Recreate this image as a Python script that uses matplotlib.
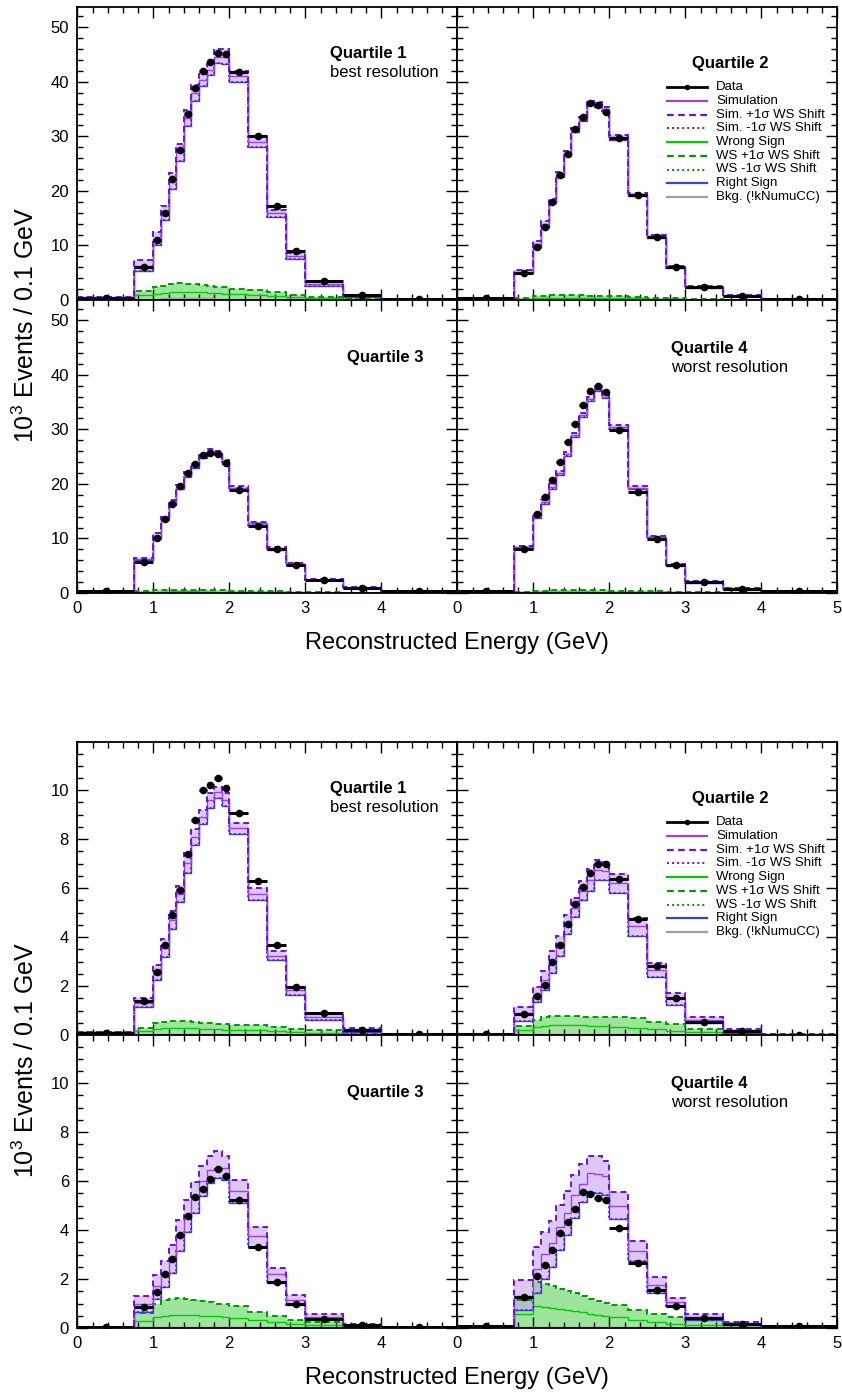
import matplotlib
matplotlib.use("Agg")
import matplotlib.pyplot as plt
from matplotlib.lines import Line2D
from matplotlib.ticker import MultipleLocator
import numpy as np

plt.rcParams['font.family'] = ['Liberation Sans', 'DejaVu Sans']
plt.rcParams['mathtext.fontset'] = 'custom'
plt.rcParams['mathtext.rm'] = 'Liberation Sans'

# Reconstructed-energy binning (GeV)
edges = [0.0, 0.75, 1.0, 1.1, 1.2, 1.3, 1.4, 1.5, 1.6, 1.7, 1.8, 1.9, 2.0,
         2.25, 2.5, 2.75, 3.0, 3.5, 4.0, 5.0]

# ---------------- neutrino-mode sample (upper figure) ----------------
fhc_q1_data = [0.45, 6.1, 11.0, 15.9, 22.2, 27.4, 34.0, 38.8, 41.9, 43.7, 45.2, 45.1, 41.7, 30.1, 17.2, 8.9, 3.4, 0.86, 0.1]
fhc_q1_sim = [0.5, 6.3, 11.2, 15.9, 21.7, 27.2, 33.3, 37.9, 40.3, 42.2, 44.6, 44.5, 41.0, 29.0, 15.9, 8.1, 2.95, 0.8, 0.1]
fhc_q1_up = [0.55, 7.3, 12.4, 17.2, 23.2, 28.6, 34.8, 39.4, 41.5, 43.2, 46.0, 46.0, 42.0, 29.8, 16.5, 8.6, 3.4, 1.0, 0.12]
fhc_q1_dn = [0.45, 5.4, 10.1, 14.7, 20.3, 25.5, 31.8, 36.4, 39.2, 41.3, 43.4, 43.3, 40.0, 28.1, 15.3, 7.6, 2.6, 0.6, 0.08]
fhc_q1_ws = [0.02, 0.85, 1.15, 1.3, 1.45, 1.5, 1.5, 1.45, 1.4, 1.3, 1.2, 1.15, 1.05, 0.9, 0.7, 0.5, 0.3, 0.12, 0.02]
fhc_q1_wsup = [0.05, 1.7, 2.3, 2.6, 2.9, 3.05, 3.0, 2.9, 2.75, 2.6, 2.45, 2.3, 2.1, 1.8, 1.4, 1.0, 0.6, 0.25, 0.03]

fhc_q2_data = [0.4, 4.9, 9.7, 13.4, 18.0, 23.0, 26.8, 31.3, 33.5, 36.1, 35.8, 34.5, 29.6, 19.3, 11.5, 6.0, 2.3, 0.7, 0.2]
fhc_q2_sim = [0.4, 5.2, 10.3, 13.9, 18.1, 23.0, 26.9, 31.2, 33.2, 36.1, 35.8, 35.0, 29.8, 19.4, 11.6, 6.05, 2.4, 0.75, 0.2]
fhc_q2_up = [0.45, 5.5, 10.8, 14.4, 18.5, 23.4, 27.3, 31.6, 33.6, 36.5, 36.2, 35.4, 30.2, 19.7, 11.9, 6.3, 2.6, 0.85, 0.22]
fhc_q2_dn = [0.38, 4.9, 9.8, 13.4, 17.7, 22.6, 26.5, 30.8, 32.8, 35.7, 35.4, 34.6, 29.4, 19.1, 11.35, 5.8, 2.2, 0.65, 0.18]
fhc_q2_ws = [0.01, 0.22, 0.35, 0.4, 0.42, 0.45, 0.45, 0.44, 0.42, 0.41, 0.39, 0.37, 0.35, 0.3, 0.22, 0.16, 0.09, 0.04, 0.01]
fhc_q2_wsup = [0.02, 0.45, 0.7, 0.8, 0.85, 0.9, 0.9, 0.88, 0.85, 0.82, 0.78, 0.75, 0.7, 0.6, 0.45, 0.32, 0.18, 0.08, 0.02]

fhc_q3_data = [0.3, 5.7, 10.1, 13.5, 16.3, 19.7, 22.0, 23.7, 25.3, 25.7, 25.4, 23.8, 18.9, 12.2, 8.1, 5.1, 2.3, 1.0, 0.3]
fhc_q3_sim = [0.3, 6.2, 10.5, 13.6, 16.6, 19.4, 21.7, 23.4, 25.1, 26.0, 25.7, 24.0, 19.3, 12.8, 8.15, 5.3, 2.45, 0.95, 0.3]
fhc_q3_up = [0.33, 6.5, 11.0, 14.0, 17.0, 19.8, 22.1, 23.8, 25.5, 26.4, 26.1, 24.4, 19.7, 13.1, 8.4, 5.5, 2.6, 1.05, 0.32]
fhc_q3_dn = [0.28, 6.0, 10.1, 13.3, 16.2, 19.0, 21.3, 23.0, 24.8, 25.7, 25.4, 23.7, 19.0, 12.5, 7.9, 5.1, 2.3, 0.85, 0.28]
fhc_q3_ws = [0.01, 0.15, 0.25, 0.27, 0.3, 0.3, 0.3, 0.29, 0.27, 0.26, 0.25, 0.24, 0.22, 0.19, 0.15, 0.11, 0.06, 0.03, 0.01]
fhc_q3_wsup = [0.01, 0.3, 0.5, 0.55, 0.6, 0.6, 0.6, 0.58, 0.55, 0.52, 0.5, 0.48, 0.45, 0.38, 0.3, 0.22, 0.13, 0.06, 0.01]

fhc_q4_data = [0.4, 8.1, 14.5, 17.6, 20.8, 24.0, 27.7, 31.0, 34.5, 37.1, 38.0, 36.8, 29.9, 18.6, 9.9, 5.1, 2.0, 0.7, 0.3]
fhc_q4_sim = [0.4, 8.35, 14.0, 16.7, 19.5, 22.0, 25.4, 28.9, 32.6, 35.5, 37.3, 36.0, 30.4, 19.3, 10.3, 5.2, 2.05, 0.72, 0.3]
fhc_q4_up = [0.43, 8.6, 14.3, 17.1, 19.9, 22.4, 25.8, 29.3, 33.0, 35.9, 37.6, 36.3, 30.7, 19.6, 10.5, 5.4, 2.2, 0.85, 0.32]
fhc_q4_dn = [0.38, 8.1, 13.8, 16.3, 19.1, 21.7, 25.1, 28.5, 32.2, 35.1, 37.0, 35.7, 30.1, 19.0, 10.1, 5.0, 1.9, 0.6, 0.28]
fhc_q4_ws = [0.01, 0.12, 0.2, 0.22, 0.25, 0.25, 0.25, 0.25, 0.25, 0.25, 0.25, 0.24, 0.22, 0.19, 0.14, 0.1, 0.06, 0.03, 0.01]
fhc_q4_wsup = [0.01, 0.25, 0.4, 0.45, 0.5, 0.5, 0.5, 0.5, 0.5, 0.5, 0.5, 0.48, 0.45, 0.38, 0.28, 0.2, 0.12, 0.05, 0.01]

fhc_bkg = [0.05, 0.2, 0.25, 0.28, 0.3, 0.3, 0.3, 0.3, 0.3, 0.28, 0.27, 0.25, 0.22, 0.18, 0.14, 0.1, 0.07, 0.04, 0.02]

# ---------------- antineutrino-mode sample (lower figure) ----------------
rhc_q1_data = [0.1, 1.37, 2.57, 3.69, 4.9, 5.94, 7.39, 8.77, 10.0, 10.2, 10.5, 10.08, 9.06, 6.28, 3.69, 1.98, 0.89, 0.2, 0.03]
rhc_q1_sim = [0.12, 1.32, 2.55, 3.55, 4.71, 5.78, 7.04, 8.1, 8.92, 9.59, 9.93, 9.6, 8.44, 5.78, 3.24, 1.82, 0.75, 0.2, 0.02]
rhc_q1_up = [0.13, 1.5, 2.86, 3.93, 5.05, 6.08, 7.42, 8.4, 9.18, 9.88, 10.15, 9.9, 8.67, 6.01, 3.42, 1.95, 0.86, 0.27, 0.03]
rhc_q1_dn = [0.11, 1.13, 2.25, 3.18, 4.34, 5.42, 6.63, 7.75, 8.61, 9.29, 9.7, 9.36, 8.2, 5.53, 3.07, 1.64, 0.61, 0.14, 0.01]
rhc_q1_ws = [0.0, 0.17, 0.25, 0.28, 0.3, 0.3, 0.29, 0.27, 0.25, 0.24, 0.23, 0.22, 0.21, 0.2, 0.17, 0.13, 0.1, 0.05, 0.0]
rhc_q1_wsup = [0.0, 0.3, 0.48, 0.55, 0.59, 0.59, 0.56, 0.53, 0.5, 0.48, 0.45, 0.45, 0.42, 0.4, 0.33, 0.26, 0.2, 0.1, 0.0]

rhc_q2_data = [0.05, 0.85, 1.6, 2.05, 2.98, 3.69, 4.55, 5.37, 6.04, 6.6, 7.0, 6.97, 6.38, 4.74, 2.8, 1.5, 0.55, 0.16, 0.02]
rhc_q2_sim = [0.05, 0.88, 1.64, 2.23, 2.98, 3.62, 4.5, 5.19, 5.87, 6.35, 6.73, 6.69, 6.19, 4.44, 2.66, 1.5, 0.61, 0.17, 0.03]
rhc_q2_up = [0.06, 1.16, 1.95, 2.6, 3.42, 4.03, 4.9, 5.6, 6.28, 6.79, 7.13, 7.06, 6.56, 4.78, 2.96, 1.73, 0.75, 0.25, 0.04]
rhc_q2_dn = [0.04, 0.59, 1.33, 1.84, 2.55, 3.24, 4.14, 4.81, 5.5, 5.87, 6.33, 6.33, 5.8, 4.06, 2.36, 1.23, 0.48, 0.1, 0.02]
rhc_q2_ws = [0.0, 0.2, 0.31, 0.37, 0.4, 0.41, 0.41, 0.4, 0.39, 0.38, 0.38, 0.36, 0.34, 0.3, 0.23, 0.18, 0.11, 0.07, 0.01]
rhc_q2_wsup = [0.0, 0.37, 0.61, 0.72, 0.78, 0.79, 0.79, 0.78, 0.75, 0.75, 0.75, 0.72, 0.72, 0.68, 0.55, 0.45, 0.26, 0.14, 0.02]

rhc_q3_data = [0.04, 0.86, 1.48, 2.2, 2.8, 3.8, 4.56, 5.35, 5.68, 6.1, 6.5, 6.2, 5.24, 3.32, 1.89, 0.97, 0.38, 0.11, 0.04]
rhc_q3_sim = [0.05, 0.98, 1.71, 2.23, 2.8, 3.76, 4.56, 5.31, 5.99, 6.44, 6.54, 6.54, 5.61, 3.76, 2.19, 1.16, 0.45, 0.13, 0.04]
rhc_q3_up = [0.06, 1.3, 2.16, 2.75, 3.39, 4.42, 5.21, 5.96, 6.63, 7.04, 7.22, 7.02, 6.03, 4.12, 2.46, 1.34, 0.56, 0.18, 0.05]
rhc_q3_dn = [0.04, 0.66, 1.2, 1.68, 2.26, 3.16, 3.94, 4.69, 5.38, 5.92, 6.13, 6.06, 5.1, 3.32, 1.85, 0.93, 0.31, 0.07, 0.03]
rhc_q3_ws = [0.0, 0.27, 0.45, 0.51, 0.53, 0.55, 0.55, 0.52, 0.51, 0.49, 0.48, 0.45, 0.42, 0.31, 0.23, 0.16, 0.11, 0.04, 0.0]
rhc_q3_wsup = [0.0, 0.62, 1.0, 1.14, 1.2, 1.23, 1.2, 1.16, 1.11, 1.07, 1.0, 0.97, 0.89, 0.66, 0.48, 0.34, 0.25, 0.08, 0.01]

rhc_q4_data = [0.08, 1.27, 2.13, 2.56, 3.19, 3.9, 4.35, 4.86, 5.54, 5.49, 5.31, 5.21, 4.08, 2.67, 1.55, 0.9, 0.42, 0.18, 0.07]
rhc_q4_sim = [0.08, 1.3, 2.39, 3.02, 3.46, 4.12, 4.69, 5.44, 5.9, 6.33, 6.31, 6.2, 4.99, 3.16, 1.75, 1.07, 0.45, 0.18, 0.06]
rhc_q4_up = [0.09, 1.98, 3.32, 3.94, 4.39, 5.03, 5.58, 6.24, 6.68, 7.04, 7.02, 6.84, 5.54, 3.57, 2.07, 1.24, 0.56, 0.25, 0.07]
rhc_q4_dn = [0.07, 0.73, 1.44, 2.02, 2.5, 3.19, 3.8, 4.49, 5.13, 5.54, 5.51, 5.44, 4.45, 2.75, 1.44, 0.89, 0.34, 0.11, 0.05]
rhc_q4_ws = [0.0, 0.59, 0.89, 0.86, 0.82, 0.78, 0.73, 0.68, 0.64, 0.59, 0.55, 0.49, 0.45, 0.34, 0.25, 0.18, 0.11, 0.04, 0.01]
rhc_q4_wsup = [0.0, 1.16, 1.86, 1.79, 1.71, 1.61, 1.5, 1.41, 1.31, 1.2, 1.11, 1.03, 0.96, 0.75, 0.56, 0.45, 0.31, 0.18, 0.03]

rhc_bkg = [0.01, 0.04, 0.05, 0.06, 0.06, 0.06, 0.06, 0.06, 0.06, 0.05, 0.05, 0.05, 0.04, 0.04, 0.03, 0.02, 0.02, 0.01, 0.01]

# -1 sigma wrong-sign shift removes the wrong-sign component entirely
ws_minus = [0.0] * 19

quartile_titles = ["Quartile 1", "Quartile 2", "Quartile 3", "Quartile 4"]
quartile_notes = ["best resolution", None, None, "worst resolution"]

legend_labels = ["Data", "Simulation", "Sim. +1\u03c3 WS Shift", "Sim. -1\u03c3 WS Shift",
                 "Wrong Sign", "WS +1\u03c3 WS Shift", "WS -1\u03c3 WS Shift",
                 "Right Sign", "Bkg. (!kNumuCC)"]

# ---------------- styling ----------------
C_SIM = '#a040e0'
C_SHIFT = '#6a10e0'
C_RS = '#3348d0'
C_WS = '#00cc00'
C_WSSHIFT = '#009a00'
C_BKG = '#a0a0a0'
C_PFILL = '#c7a3f2'
C_GFILL = '#3ccc3c'
DASH = (0, (3.0, 2.0))
DOT = (0, (1.0, 1.6))

W, H = 842, 1396
fig = plt.figure(figsize=(W / 100, H / 100), dpi=100)

LEFT = 77.3
PW = 380.0
PH = 293.0


def add_panel(x0, y0):
    return fig.add_axes([x0 / W, 1 - (y0 + PH) / H, PW / W, PH / H])


def draw_hists(ax, data, sim, up, dn, ws, wsup, bkg):
    e = np.asarray(edges)
    ax.stairs(wsup, e, baseline=ws_minus, fill=True, color=C_GFILL, alpha=0.5, lw=0, zorder=1)
    ax.stairs(up, e, baseline=dn, fill=True, color=C_PFILL, alpha=0.6, lw=0, zorder=1.5)
    ax.stairs(bkg, e, baseline=None, color=C_BKG, lw=1.0, zorder=2)
    ax.stairs(ws_minus, e, baseline=None, color=C_WSSHIFT, lw=1.4, ls=DOT, zorder=2.1)
    ax.stairs(ws, e, baseline=None, color=C_WS, lw=1.0, zorder=2.2)
    ax.stairs(wsup, e, baseline=None, color=C_WSSHIFT, lw=1.4, ls=DASH, zorder=2.3)
    ax.stairs(dn, e, baseline=None, color=C_RS, lw=1.0, zorder=2.4)
    ax.stairs(dn, e, baseline=None, color=C_SHIFT, lw=1.3, ls=DOT, zorder=2.5)
    ax.stairs(sim, e, baseline=None, color=C_SIM, lw=1.0, zorder=2.6)
    ax.stairs(up, e, baseline=None, color=C_SHIFT, lw=1.4, ls=DASH, zorder=2.7)
    centers = 0.5 * (e[:-1] + e[1:])
    half = 0.5 * np.diff(e)
    ax.errorbar(centers, data, xerr=half, fmt='o', color='black', ms=4.5,
                elinewidth=2.2, capsize=0, zorder=4)


def style_axes(ax, ymax, ymajor, yminor, show_xlabels, show_ylabels, last_x_label):
    ax.set_xlim(0, 5)
    ax.set_ylim(0, ymax)
    ax.xaxis.set_major_locator(MultipleLocator(1))
    ax.xaxis.set_minor_locator(MultipleLocator(0.2))
    ax.yaxis.set_major_locator(MultipleLocator(ymajor))
    ax.yaxis.set_minor_locator(MultipleLocator(yminor))
    ax.tick_params(which='both', direction='in', top=True, right=True, width=1.0,
                   labelsize=12)
    ax.tick_params(which='major', length=8)
    ax.tick_params(which='minor', length=4)
    ax.tick_params(axis='x', pad=6)
    ax.tick_params(axis='y', pad=6)
    for s in ax.spines.values():
        s.set_linewidth(1.3)
    if show_xlabels:
        ticks = [0, 1, 2, 3, 4, 5]
        labels = ['0', '1', '2', '3', '4', '5' if last_x_label else '']
        ax.set_xticks(ticks, labels)
    else:
        ax.tick_params(axis='x', labelbottom=False)
    if not show_ylabels:
        ax.tick_params(axis='y', labelleft=False)


def quartile_text(ax, k, xfrac, yfrac, note_yfrac=None):
    ax.text(xfrac, yfrac, quartile_titles[k], transform=ax.transAxes, fontsize=12,
            fontweight='bold', ha='left', va='baseline')
    if quartile_notes[k] is not None:
        ax.text(xfrac, note_yfrac, quartile_notes[k], transform=ax.transAxes,
                fontsize=12, ha='left', va='baseline')


def draw_legend(ax):
    x0 = (667 - 457.3) / PW
    x1 = (707 - 457.3) / PW
    xt = (716 - 457.3) / PW
    styles = [
        dict(color='black', lw=2.0, ls='-'),
        dict(color=C_SIM, lw=1.6, ls='-'),
        dict(color=C_SHIFT, lw=1.6, ls=DASH),
        dict(color=C_SHIFT, lw=1.4, ls=DOT),
        dict(color=C_WS, lw=1.6, ls='-'),
        dict(color=C_WSSHIFT, lw=1.6, ls=DASH),
        dict(color=C_WSSHIFT, lw=1.4, ls=DOT),
        dict(color=C_RS, lw=1.6, ls='-'),
        dict(color=C_BKG, lw=1.6, ls='-'),
    ]
    for i, (lab, st) in enumerate(zip(legend_labels, styles)):
        y = 1 - (80 + 13.75 * i) / PH
        ax.add_line(Line2D([x0, x1], [y, y], transform=ax.transAxes, clip_on=False, **st))
        if i == 0:
            ax.plot([0.5 * (x0 + x1)], [y], 'o', color='black', ms=3,
                    transform=ax.transAxes, clip_on=False)
        ax.text(xt, y, lab, transform=ax.transAxes, fontsize=9.5, ha='left', va='center')


def build_block(top, ymax, ymajor, yminor, sets, bkg):
    rows = [top, top + PH]
    positions = [(LEFT, rows[0]), (LEFT + PW, rows[0]), (LEFT, rows[1]), (LEFT + PW, rows[1])]
    axes = []
    for k, ((x0, y0), vals) in enumerate(zip(positions, sets)):
        ax = add_panel(x0, y0)
        draw_hists(ax, *vals, bkg)
        style_axes(ax, ymax, ymajor, yminor,
                   show_xlabels=(k >= 2), show_ylabels=(k % 2 == 0),
                   last_x_label=(k == 3))
        axes.append(ax)
    quartile_text(axes[0], 0, (330 - LEFT) / PW, 1 - 51 / PH, 1 - 70 / PH)
    quartile_text(axes[1], 1, (692 - LEFT - PW) / PW, 1 - 61 / PH)
    quartile_text(axes[2], 2, (347 - LEFT) / PW, 1 - 62 / PH)
    quartile_text(axes[3], 3, (671 - LEFT - PW) / PW, 1 - 53 / PH, 1 - 72 / PH)
    draw_legend(axes[1])
    return axes


fhc_sets = [
    (fhc_q1_data, fhc_q1_sim, fhc_q1_up, fhc_q1_dn, fhc_q1_ws, fhc_q1_wsup),
    (fhc_q2_data, fhc_q2_sim, fhc_q2_up, fhc_q2_dn, fhc_q2_ws, fhc_q2_wsup),
    (fhc_q3_data, fhc_q3_sim, fhc_q3_up, fhc_q3_dn, fhc_q3_ws, fhc_q3_wsup),
    (fhc_q4_data, fhc_q4_sim, fhc_q4_up, fhc_q4_dn, fhc_q4_ws, fhc_q4_wsup),
]
rhc_sets = [
    (rhc_q1_data, rhc_q1_sim, rhc_q1_up, rhc_q1_dn, rhc_q1_ws, rhc_q1_wsup),
    (rhc_q2_data, rhc_q2_sim, rhc_q2_up, rhc_q2_dn, rhc_q2_ws, rhc_q2_wsup),
    (rhc_q3_data, rhc_q3_sim, rhc_q3_up, rhc_q3_dn, rhc_q3_ws, rhc_q3_wsup),
    (rhc_q4_data, rhc_q4_sim, rhc_q4_up, rhc_q4_dn, rhc_q4_ws, rhc_q4_wsup),
]

build_block(7, 53.7, 10, 2, fhc_sets, fhc_bkg)
build_block(742, 11.97, 2, 0.5, rhc_sets, rhc_bkg)

XLABEL = "Reconstructed Energy (GeV)"
YLABEL = r"10$^{\mathregular{3}}$ Events / 0.1 GeV"
for dy in (0, 735):
    fig.text((LEFT + PW) / W, 1 - (643 + dy) / H, XLABEL, fontsize=17, ha='center', va='center')
    fig.text(26 / W, 1 - (325 + dy) / H, YLABEL, fontsize=18, rotation=90,
             ha='center', va='center')

fig.savefig("out.png", dpi=100)
